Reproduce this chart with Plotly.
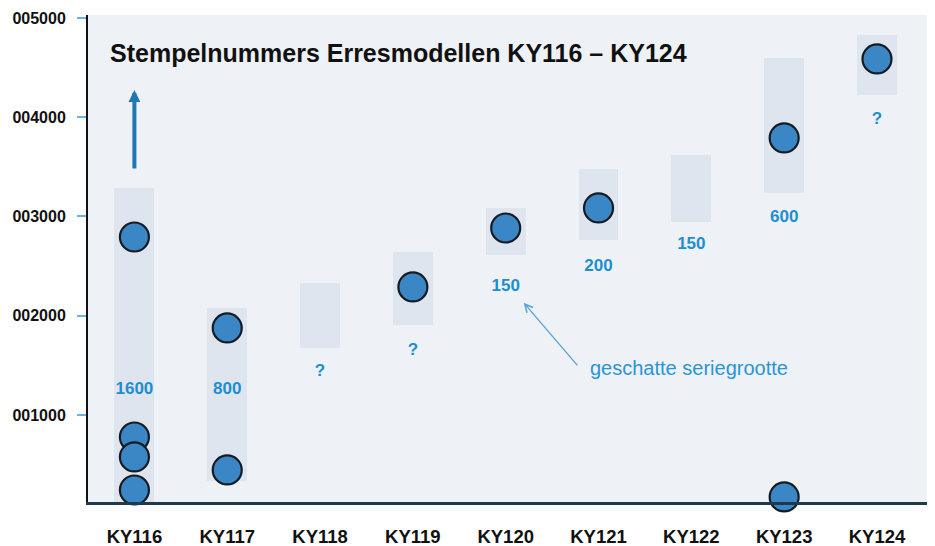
import plotly.graph_objects as go

models = ["KY116", "KY117", "KY118", "KY119", "KY120", "KY121", "KY122", "KY123", "KY124"]

# shaded range per model (low, high)
band_low = [0, 330, 1675, 1907, 2612, 2763, 2945, 3237, 4224]
band_high = [3290, 2078, 2330, 2642, 3086, 3479, 3620, 4597, 4829]

# known stamp numbers
dot_models = ["KY116", "KY116", "KY116", "KY116", "KY117", "KY117", "KY119", "KY120", "KY121", "KY123", "KY123", "KY124"]
dot_values = [2793, 778, 577, 244, 1877, 446, 2290, 2884, 3086, 3791, 174, 4587]

# estimated series size labels
label_models = models
label_text = ["1600", "800", "?", "?", "150", "200", "150", "600", "?"]
label_values = [1252, 1252, 1433, 1645, 2290, 2491, 2713, 2985, 3972]

ytick_vals = [1000, 2000, 3000, 4000, 5000]

fig = go.Figure()

fig.add_trace(go.Bar(
    x=models,
    y=[h - l for h, l in zip(band_high, band_low)],
    base=band_low,
    width=0.43,
    marker=dict(color="#dfe5ee", line=dict(width=0)),
    hoverinfo="skip",
    showlegend=False,
))

fig.add_trace(go.Scatter(
    x=dot_models, y=dot_values, mode="markers",
    marker=dict(size=29, color="#3b87c6", line=dict(color="#141b22", width=2.2)),
    showlegend=False, cliponaxis=False,
))

fig.add_trace(go.Scatter(
    x=label_models, y=label_values, mode="text", text=label_text,
    textfont=dict(family="Liberation Sans", size=17, color="#1b8fd2", weight="bold"),
    showlegend=False,
))

annotations = [
    dict(text="Stempelnummers Erresmodellen KY116 – KY124",
         xref="paper", yref="paper", x=0.0236, y=0.922,
         xanchor="left", yanchor="middle", showarrow=False,
         font=dict(family="Liberation Sans", size=25, color="#111111", weight="bold")),
    # upward arrow above KY116
    dict(x="KY116", y=4275, ax="KY116", ay=3469, xref="x", yref="y", axref="x", ayref="y",
         text="", showarrow=True, arrowhead=2, arrowsize=0.6, arrowwidth=4, arrowcolor="#1f77b4"),
    # explanation arrow
    dict(x="KY120", y=2130, xref="x", yref="y", xshift=18,
         ax=55, ay=64, text="", showarrow=True, arrowhead=5, arrowsize=1.2,
         arrowwidth=1.3, arrowcolor="#5aa3d6"),
    dict(text="geschatte seriegrootte", xref="x", yref="y", x="KY121", y=1470,
         xshift=-11, xanchor="left", yanchor="middle", showarrow=False,
         font=dict(family="Liberation Sans", size=20, color="#2a95d5")),
]

# the page adds an 8 px body margin, so the figure is sized to fill the rest
fig.update_layout(
    width=927, height=538,
    margin=dict(l=80, r=0, t=7, b=44, autoexpand=False),
    paper_bgcolor="#ffffff",
    plot_bgcolor="#eef1f5",
    bargap=0,
    annotations=annotations,
    xaxis=dict(
        type="category", range=[-0.5, 8.625], automargin=False,
        showline=True, linecolor="#1d3b4a", linewidth=2.5,
        showgrid=False, ticks="", ticklabelstandoff=16,
        tickfont=dict(family="Liberation Sans", size=18.5, color="#111111", weight="bold"),
    ),
    yaxis=dict(
        range=[123, 5030], automargin=False,
        tickvals=ytick_vals, tickformat="06d",
        showline=True, linecolor="#111111", linewidth=2,
        showgrid=False, zeroline=False,
        ticks="outside", ticklen=9, tickcolor="#6db3e0", tickwidth=1.5,
        ticklabelstandoff=8,
        tickfont=dict(family="Liberation Sans", size=16, color="#111111", weight="bold"),
    ),
)

fig.write_html("out.html")
